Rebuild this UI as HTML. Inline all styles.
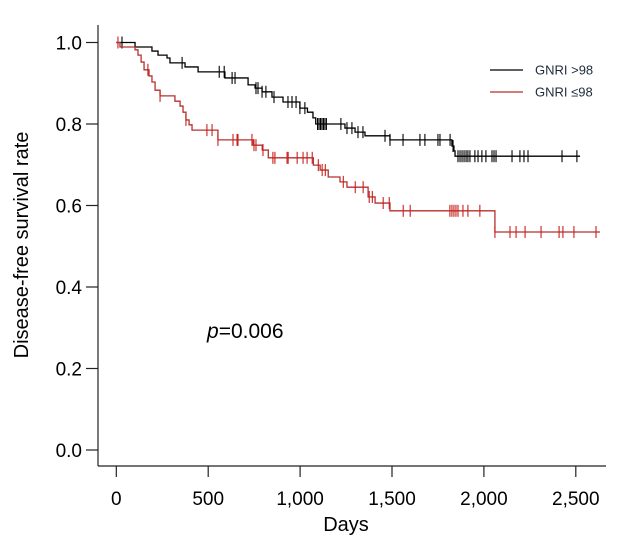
<!DOCTYPE html>
<html><head><meta charset="utf-8"><style>
html,body{margin:0;padding:0;background:#fff;}
svg{display:block;font-family:"Liberation Sans",Arial,sans-serif;}
</style></head><body>
<svg id="chart" width="630" height="557" viewBox="0 0 630 557">
<g id="axes"></g>
<g id="plot"></g>
<g>
<line x1="490" y1="70" x2="523" y2="70" stroke="#000" stroke-width="1.2"/>
<text x="535" y="74.5" font-size="13" fill="#1f2a3a">GNRI &gt;98</text>
<line x1="490" y1="92" x2="523" y2="92" stroke="#b5312f" stroke-width="1.2"/>
<text x="535" y="96.5" font-size="13" fill="#1f2a3a">GNRI ≤98</text>
</g>
<text x="207" y="338" font-size="21" fill="#000"><tspan font-style="italic">p</tspan>=0.006</text>
<text transform="translate(28,245) rotate(-90)" text-anchor="middle" font-size="20" fill="#000">Disease-free survival rate</text>
<text x="346" y="531" text-anchor="middle" font-size="20" fill="#000">Days</text>
</svg>
<script>
const xTicks=[0,500,1000,1500,2000,2500];
const xTickLabels=["0","500","1,000","1,500","2,000","2,500"];
const yTicks=[0,0.2,0.4,0.6,0.8,1.0];
const yTickLabels=["0.0","0.2","0.4","0.6","0.8","1.0"];
const highTimes=[0,102,194,227,276,292,374,445,591,717,755,793,847,907,999,1040,1070,1085,1244,1299,1353,1489,1826,1837,1843];
const highSurv=[1.0,0.989,0.979,0.969,0.962,0.950,0.940,0.928,0.913,0.896,0.888,0.879,0.866,0.854,0.839,0.829,0.815,0.800,0.790,0.780,0.771,0.761,0.746,0.734,0.721];
const highEnd=2523;
const highCensor=[31,358,560,587,630,646,760,771,793,814,858,934,956,978,999,1026,1095,1103,1111,1119,1127,1135,1143,1222,1255,1282,1315,1342,1462,1489,1560,1652,1679,1750,1761,1816,1832,1859,1870,1881,1892,1903,1913,1924,1951,1968,1989,2011,2044,2055,2066,2153,2196,2218,2240,2425,2506];
const lowTimes=[0,20,102,118,135,151,178,194,211,238,319,347,363,379,396,412,553,745,794,827,1072,1109,1153,1217,1255,1370,1408,1489,2060];
const lowSurv=[1.0,0.989,0.982,0.969,0.952,0.933,0.918,0.903,0.883,0.869,0.856,0.844,0.829,0.810,0.798,0.785,0.761,0.748,0.736,0.717,0.699,0.687,0.670,0.658,0.645,0.621,0.606,0.587,0.535];
const lowEnd=2632;
const lowCensor=[9,172,238,379,493,521,553,635,657,662,738,749,760,798,852,863,929,935,984,1016,1038,1066,1099,1120,1137,1235,1300,1343,1376,1393,1452,1485,1561,1599,1815,1826,1837,1848,1859,1886,1913,1978,2060,2142,2175,2224,2311,2409,2430,2490,2610];

const NS="http://www.w3.org/2000/svg";
const sx=d=>116.3+d*0.1838;
const sy=v=>450-v*407.5;
function mk(tag,attrs,parent){const e=document.createElementNS(NS,tag);for(const k in attrs)e.setAttribute(k,attrs[k]);parent.appendChild(e);return e;}
const axes=document.getElementById('axes');
const plot=document.getElementById('plot');
let e=mk('line',{x1:98,y1:25,x2:98,y2:466,stroke:'#222','stroke-width':1.2},axes);


e=mk('line',{x1:98,y1:466,x2:606,y2:466,stroke:'#222','stroke-width':1.2},axes);


yTicks.forEach((v,i)=>{
 const t=mk('line',{x1:86,y1:sy(v),x2:98,y2:sy(v),stroke:'#222','stroke-width':1.2},axes);
 
 
 const l=mk('text',{x:82,y:sy(v)+7,'text-anchor':'end','font-size':19,fill:'#000'},axes);
 l.textContent=yTickLabels[i];
 
 
});
xTicks.forEach((d,i)=>{
 const t=mk('line',{x1:sx(d),y1:466,x2:sx(d),y2:477,stroke:'#222','stroke-width':1.2},axes);
 
 
 const l=mk('text',{x:sx(d),y:505,'text-anchor':'middle','font-size':19,fill:'#000'},axes);
 l.textContent=xTickLabels[i];
 
 
});
function survAt(times,surv,t){let v=surv[0];for(let i=0;i<times.length;i++){if(times[i]<=t)v=surv[i];}return v;}
function draw(times,surv,end,cens,color,tickColor,name){
 let d='M'+sx(times[0])+','+sy(surv[0]);
 for(let i=1;i<times.length;i++){d+=' H'+sx(times[i])+' V'+sy(surv[i]);}
 d+=' H'+sx(end);
 const p=mk('path',{d:d,fill:'none',stroke:color,'stroke-width':1.3},plot);
 
 
 cens.forEach(c=>{
  const y=sy(survAt(times,surv,c));
  const m=mk('line',{x1:sx(c),y1:y-6,x2:sx(c),y2:y+6,stroke:tickColor,'stroke-width':1.1},plot);
  
  
 });
}
draw(highTimes,highSurv,highEnd,highCensor,'#000','#000','gnri-high');
draw(lowTimes,lowSurv,lowEnd,lowCensor,'#b5312f','#c8201c','gnri-low');
</script>
</body></html>
